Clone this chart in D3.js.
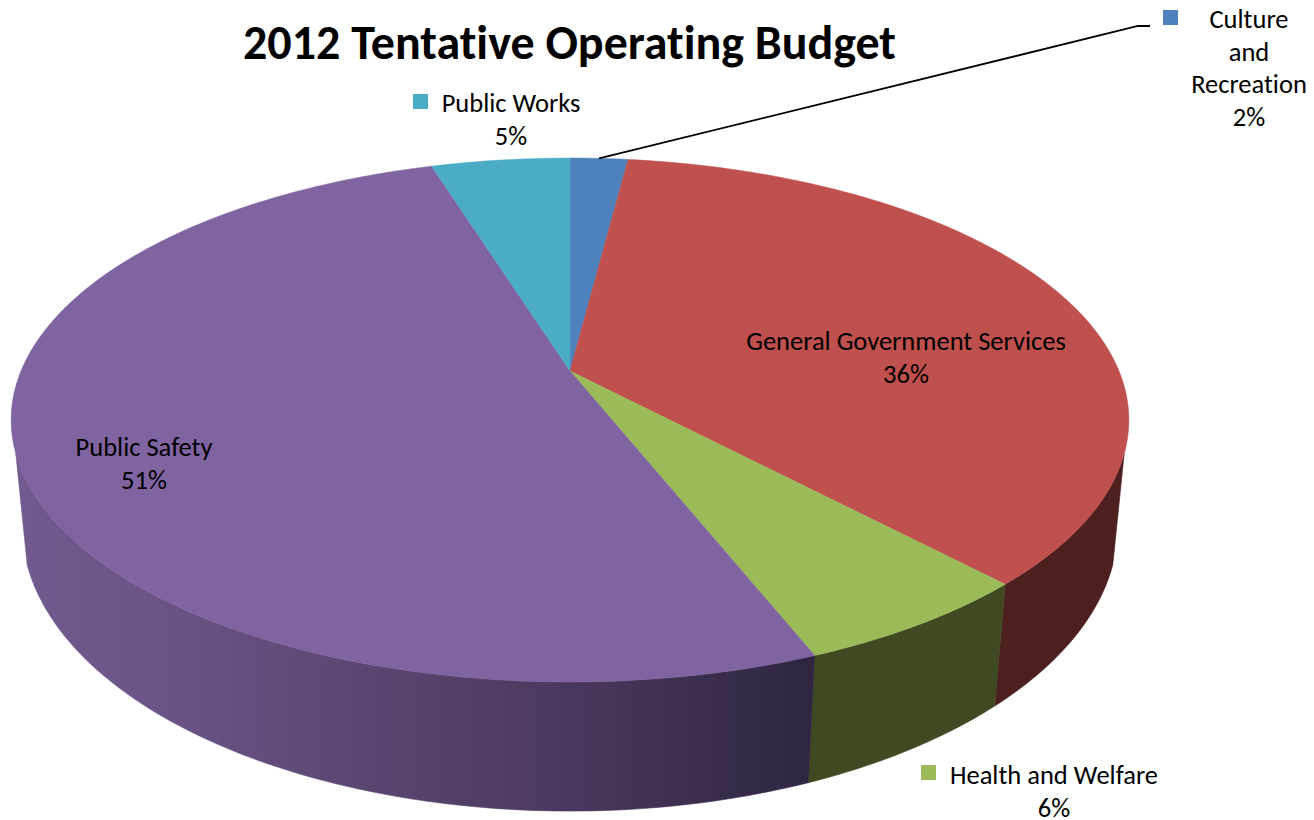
<!DOCTYPE html>
<html>
<head>
<meta charset="utf-8">
<script src="https://cdn.jsdelivr.net/npm/d3@7"></script>
<style>
html,body{margin:0;padding:0;background:#fff;overflow:hidden}
text{font-family:Carlito,Lato,"Open Sans",sans-serif;fill:#000;font-variant-ligatures:none}
</style>
</head>
<body>
<svg id="chart" width="1314" height="820"></svg>
<script>
// Data
const titleText = "2012 Tentative Operating Budget";
const categories = ["Culture and Recreation","General Government Services","Health and Welfare","Public Safety","Public Works"];
const shares = [2, 36, 6, 51.2, 4.8];
const topColors = ["#4F81BD","#C0504D","#9BBB59","#8064A2","#4BACC6"];
const wallColors = ["#2a4263","#4D1F1E","#3F4A22","url(#wallPurple)","#275966"];

// Label layout: wrapped name lines, centre x, first baseline, key position
const labelLines = [["Culture","and","Recreation"],["General Government Services"],["Health and Welfare"],["Public Safety"],["Public Works"]];
const labelX = [1249, 906, 1054, 144, 511];
const labelY = [27.8, 349.8, 783.8, 455.8, 111.8];
const lineStep = [32.7, 32.7, 32.7, 32.7, 32.7];
const keyX = [1163, 720, 921, 50, 413];
const keyY = [10, 333, 765, 438, 94];

// Perspective projection of a unit disc onto the screen
const cx = 570;
const topRim = {a:549, b:252.8, k:0.187, y0:371};
const botRim = {a:539, b:276, k:0.18, y0:474.5};
function project(rim, angle){
  const u = Math.sin(angle), v = -Math.cos(angle), w = 1 - rim.k * v;
  return [cx + rim.a * u / w, rim.y0 + rim.b * v / w];
}
const rad = d => d * Math.PI / 180;
const wallStart = rad(108), wallEnd = rad(252);
const sampled = (a0, a1) => {
  const n = Math.max(2, Math.ceil((a1 - a0) / rad(1)));
  return d3.range(n + 1).map(i => a0 + (a1 - a0) * i / n);
};

const svg = d3.select("#chart");
const defs = svg.append("defs");
const grad = defs.append("linearGradient").attr("id","wallPurple")
  .attr("gradientUnits","userSpaceOnUse").attr("x1",15).attr("x2",815).attr("y1",0).attr("y2",0);
[[0,"#725A90"],[0.2,"#6A5286"],[0.45,"#5A4570"],[0.7,"#49385D"],[1,"#2F2541"]]
  .forEach(s => grad.append("stop").attr("offset",s[0]).attr("stop-color",s[1]));

const arcs = d3.pie().sort(null).value(d => d)(shares);
const line = d3.line();

// Side walls, back to front
const walls = svg.append("g");
arcs.forEach((d, i) => {
  const a0 = Math.max(d.startAngle, wallStart), a1 = Math.min(d.endAngle, wallEnd);
  if (a1 <= a0) return;
  const angles = sampled(a0, a1);
  const pts = angles.map(a => project(topRim, a))
    .concat(angles.slice().reverse().map(a => project(botRim, a)));
  walls.append("path").attr("d", line(pts) + "Z")
    .attr("fill", wallColors[i]).attr("stroke", wallColors[i]).attr("stroke-width", 0.6);
});

// Top face
const faces = svg.append("g");
arcs.forEach((d, i) => {
  const pts = [[cx, topRim.y0]].concat(sampled(d.startAngle, d.endAngle).map(a => project(topRim, a)));
  faces.append("path").attr("d", line(pts) + "Z")
    .attr("fill", topColors[i]).attr("stroke", topColors[i]).attr("stroke-width", 0.5);
});

// Leader line for the small slice
const mid = (arcs[0].startAngle + arcs[0].endAngle) / 2;
const anchor = project(topRim, mid);
svg.append("path").attr("fill","none").attr("stroke","#000").attr("stroke-width",1.8)
  .attr("d", line([anchor, [1138, 26], [1150, 26]]));

// Title
svg.append("text").attr("x",569.5).attr("y",58.5).attr("text-anchor","middle")
  .attr("font-size",48).attr("font-weight",700).text(titleText);

// Data labels
const fmt = d3.format(".0f");
categories.forEach((c, i) => {
  svg.append("rect").attr("x",keyX[i]).attr("y",keyY[i]).attr("width",15).attr("height",15).attr("fill",topColors[i]);
  const rows = labelLines[i].concat([fmt(shares[i]) + "%"]);
  const t = svg.append("text").attr("text-anchor","middle").attr("font-size",26.5);
  rows.forEach((r, j) => {
    t.append("tspan").attr("x",labelX[i]).attr("y",labelY[i] + j * lineStep[i]).text(r);
  });
});
</script>
</body>
</html>
